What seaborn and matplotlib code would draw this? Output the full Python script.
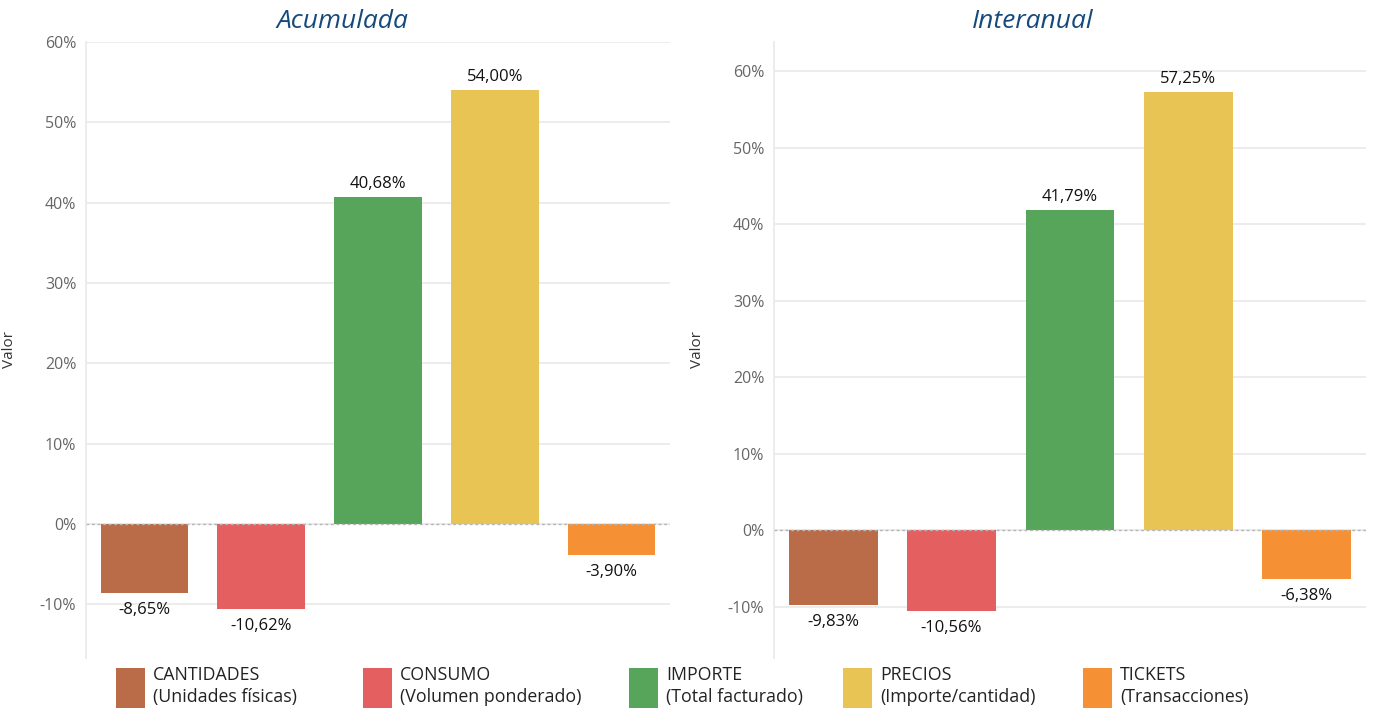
import matplotlib
matplotlib.use("Agg")
import matplotlib.pyplot as plt
import seaborn as sns
import pandas as pd
from matplotlib.patches import Patch
from matplotlib.ticker import FuncFormatter, MultipleLocator

categories = ["CANTIDADES", "CONSUMO", "IMPORTE", "PRECIOS", "TICKETS"]
subtitles = ["(Unidades físicas)", "(Volumen ponderado)", "(Total facturado)",
             "(Importe/cantidad)", "(Transacciones)"]
acumulada = [-8.65, -10.62, 40.68, 54.00, -3.90]
interanual = [-9.83, -10.56, 41.79, 57.25, -6.38]
colors = ["#BA6C48", "#E35F60", "#57A55A", "#E8C454", "#F59035"]

sns.set_theme(style="white")
plt.rcParams['font.family'] = ['Open Sans', 'DejaVu Sans']

W, H = 1373, 713
fig = plt.figure(figsize=(W / 100, H / 100), dpi=100)

panels = [
    ("Acumulada", acumulada, [86 / W, 55 / H, 584 / W, 616 / H], (-16.7, 60.0), 342),
    ("Interanual", interanual, [774 / W, 55 / H, 592 / W, 616 / H], (-16.7, 63.8), 1033),
]

def pct(v):
    return f"{v:.2f}".replace(".", ",") + "%"

for title, vals, rect, ylim, tx in panels:
    ax = fig.add_axes(rect)
    df = pd.DataFrame({"Categoria": categories, "Valor": vals})
    sns.barplot(data=df, x="Categoria", y="Valor", hue="Categoria",
                palette=colors, hue_order=categories, order=categories,
                width=0.75, legend=False, ax=ax, saturation=1,
                edgecolor='none', linewidth=0)
    ax.set_xlim(-0.5, 4.5)
    ax.set_ylim(*ylim)
    ax.yaxis.set_major_locator(MultipleLocator(10))
    ax.yaxis.set_major_formatter(FuncFormatter(lambda v, p: f"{v:.0f}%"))
    ax.grid(axis='y', color='#ebebeb', lw=1.3)
    ax.grid(axis='x', visible=False)
    ax.set_axisbelow(True)
    ax.axhline(0, color='#b5b5b5', lw=1, ls=(0, (2, 2)), zorder=3)
    ax.set_xticks([])
    ax.set_xlabel("")
    ax.set_ylabel("Valor", fontsize=11, color='#333333')
    ax.yaxis.set_label_coords(-69 / (rect[2] * W), 0.5)
    ax.tick_params(axis='y', length=0, pad=7, labelsize=11.5, labelcolor='#666666')
    for s in ['top', 'right', 'bottom']:
        ax.spines[s].set_visible(False)
    ax.spines['left'].set_color('#ebebeb')
    ax.spines['left'].set_linewidth(1.3)
    for cont, v in zip(ax.containers, vals):
        ax.bar_label(cont, labels=[pct(v)], padding=4 if v >= 0 else 6.5,
                     fontsize=12, color='#111111')
    fig.text(tx / W, 1 - 22 / H, title, ha='center', va='center', fontsize=19,
             style='italic', color='#174a7c')

legend_x = [116, 363, 629, 843, 1083]
for cat, sub, col, lx in zip(categories, subtitles, colors, legend_x):
    leg = fig.legend(handles=[Patch(facecolor=col, edgecolor='none')],
                     labels=[f"{cat}\n{sub}"], loc='center left',
                     bbox_to_anchor=(lx / W, 26 / H), frameon=False,
                     fontsize=12.8, handlelength=1.63, handleheight=3.1,
                     handletextpad=0.45, borderpad=0, borderaxespad=0)
    for t in leg.get_texts():
        t.set_linespacing(1.3)
        t.set_color('#222222')

fig.savefig("out.png", dpi=100)
